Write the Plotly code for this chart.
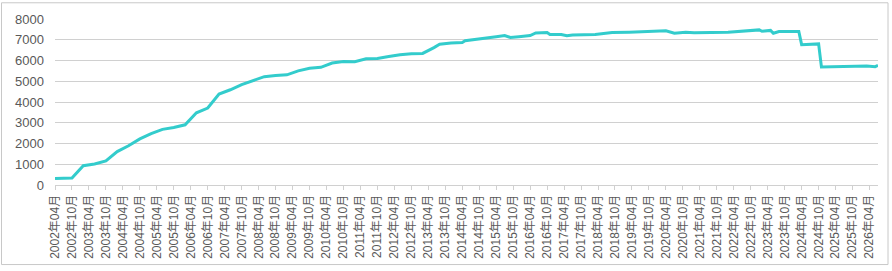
import plotly.graph_objects as go

# ---- data ----
dates = ["2002-04", "2002-10", "2003-02", "2003-06", "2003-10", "2004-02", "2004-06", "2004-10",
         "2005-02", "2005-06", "2005-10", "2006-02", "2006-06", "2006-10", "2007-02", "2007-06",
         "2007-10", "2008-02", "2008-06", "2008-10", "2009-02", "2009-06", "2009-10", "2010-02",
         "2010-06", "2010-10", "2011-02", "2011-06", "2011-10", "2012-02", "2012-06", "2012-10",
         "2013-02", "2013-06", "2013-08", "2013-12", "2014-04", "2014-05", "2014-09", "2015-01",
         "2015-04", "2015-07", "2015-09", "2015-12", "2016-04", "2016-06", "2016-10", "2016-11",
         "2017-03", "2017-05", "2017-07", "2018-03", "2018-09", "2019-03", "2019-08", "2020-02",
         "2020-04", "2020-07", "2020-11", "2021-02", "2022-02", "2023-01", "2023-02", "2023-05",
         "2023-06", "2023-08", "2024-03", "2024-04", "2024-10", "2024-11", "2025-06", "2026-03",
         "2026-06", "2026-07"]
values = [310, 340, 930, 1010, 1160, 1610, 1890, 2220,
          2480, 2680, 2770, 2900, 3480, 3710, 4380, 4590,
          4840, 5030, 5220, 5280, 5310, 5500, 5630, 5670,
          5880, 5950, 5940, 6080, 6100, 6190, 6280, 6330,
          6340, 6620, 6780, 6840, 6870, 6950, 7010, 7080,
          7140, 7200, 7110, 7150, 7205, 7330, 7350, 7255,
          7255, 7190, 7225, 7255, 7350, 7365, 7380, 7395,
          7430, 7315, 7365, 7335, 7365, 7475, 7410, 7450,
          7315, 7395, 7395, 6765, 6800, 5690, 5700, 5735,
          5700, 5760]
tick_labels = [f"{y}年{m:02d}月" for y in range(2002, 2027) for m in (4, 10)][:49]

def month_index(s):
    y, m = s.split("-")
    return (int(y) - 2002) * 12 + int(m) - 4

x = [month_index(d) for d in dates]
tickvals = [i * 6 for i in range(len(tick_labels))]

ML, MR, MT, MB = 55, 14, 18, 84
W, H = 892, 271
PW, PH = W - ML - MR, H - MT - MB

fig = go.Figure()
fig.add_trace(go.Scatter(x=x, y=values, mode="lines",
                         line=dict(color="#33CCCC", width=3), hoverinfo="skip"))

fam = "Liberation Sans, Noto Sans CJK JP, sans-serif"
fig.update_layout(
    width=W, height=H, margin=dict(l=ML, r=MR, t=MT, b=MB),
    paper_bgcolor="white", plot_bgcolor="white", showlegend=False,
    font=dict(family=fam, size=12, color="#595959"),
    xaxis=dict(range=[0, 291], tickvals=tickvals, ticktext=tick_labels, tickangle=-90,
               showgrid=False, showline=True, linecolor="#D0D0D0", linewidth=1,
               ticks="outside", ticklen=4, tickcolor="#D0D0D0", zeroline=False,
               tickfont=dict(family=fam, size=12, color="#595959")),
    yaxis=dict(range=[0, 8000], tickvals=list(range(0, 8001, 1000)), showgrid=True,
               gridcolor="#D0D0D0", gridwidth=1, zeroline=False, showline=False,
               ticks="", ticklabelstandoff=10,
               tickfont=dict(family=fam, size=13, color="#595959")),
)
# outer chart border
x0 = (1.5 - ML) / PW
x1 = (888 - ML) / PW
y1 = (H - MB - 1.5) / PH
y0 = (H - MB - 268) / PH
fig.add_shape(type="rect", xref="paper", yref="paper", x0=x0, x1=x1, y0=y0, y1=y1,
              line=dict(color="#C8C8C8", width=1), layer="below")

fig.write_html("out.html")
